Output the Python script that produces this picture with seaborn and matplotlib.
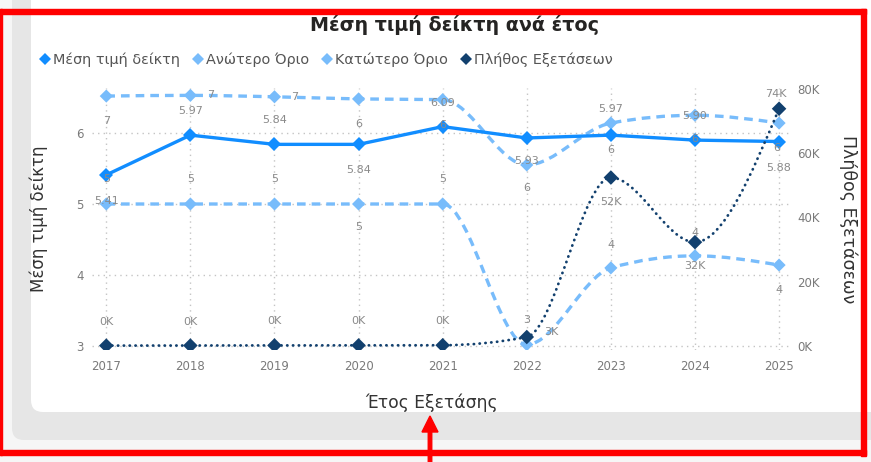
import numpy as np
import pandas as pd
import seaborn as sns
import matplotlib.pyplot as plt
from matplotlib.path import Path
from matplotlib.patches import PathPatch, Rectangle, FancyBboxPatch, FancyArrow
from matplotlib.lines import Line2D

# data
years = [2017, 2018, 2019, 2020, 2021, 2022, 2023, 2024, 2025]
mean_val = [5.41, 5.97, 5.84, 5.84, 6.09, 5.93, 5.97, 5.90, 5.88]
upper_lim = [6.52, 6.53, 6.51, 6.48, 6.47, 5.55, 6.14, 6.25, 6.14]
lower_lim = [5.0, 5.0, 5.0, 5.0, 5.0, 3.02, 4.10, 4.27, 4.14]
exam_count = [120, 150, 180, 200, 240, 2800, 52400, 32300, 73800]
series_names = ["Μέση τιμή δείκτη", "Ανώτερο Όριο", "Κατώτερο Όριο", "Πλήθος Εξετάσεων"]
left_ticks = [3, 4, 5, 6]
right_ticks = [0, 20000, 40000, 60000, 80000]

# label offsets in px (dx, dy), just placement
mean_off = [(0, -26), (0, 24), (0, 24), (0, -26), (0, 24), (0, -23), (0, 26), (0, 24), (0, -26)]
upper_off = [(0, -25), (20, 0), (20, 0), (0, -25), (0, -25), (0, -23), (0, -27), (0, -24), (-2, -25)]
lower_off = [(0, 25), (0, 25), (0, 25), (0, -23), (0, 25), (0, 25), (0, 23), (0, 23), (0, -25)]
count_off = [(0, 24), (0, 24), (0, 24), (0, 24), (0, 24), (25, 5), (0, -24), (0, -24), (-3, 15)]

c_mean = "#118DFF"
c_lim = "#78BCFB"
c_cnt = "#12406E"
c_lab = "#8a8a8a"

sns.set_style("white")
plt.rcParams["font.family"] = ["DejaVu Sans"]

W, H = 871, 462
fig = plt.figure(figsize=(W / 100, H / 100), dpi=100)
fig.patch.set_facecolor("#f6f6f6")

# background (pixel coords)
bg = fig.add_axes([0, 0, 1, 1], zorder=0)
bg.set_xlim(0, W)
bg.set_ylim(H, 0)
bg.axis("off")
bg.add_patch(FancyBboxPatch((12, -20), 900, 460, boxstyle="round,pad=0,rounding_size=12",
                            fc="#e6e6e6", ec="none"))
bg.add_patch(FancyBboxPatch((31, -20), 900, 432, boxstyle="round,pad=0,rounding_size=12",
                            fc="white", ec="none"))

ax = fig.add_axes([92 / W, 1 - 350 / H, 698 / W, 262 / H], zorder=1)
ax.set_facecolor("none")
ax2 = ax.twinx()


def smooth_patch(xs, ys, **kw):
    x = np.asarray(xs, float)
    y = np.asarray(ys, float)
    h = np.diff(x)
    s = np.diff(y) / h
    n = len(x)
    t = np.zeros(n)
    for i in range(1, n - 1):
        p = (s[i - 1] * h[i] + s[i] * h[i - 1]) / (h[i - 1] + h[i])
        t[i] = (np.sign(s[i - 1]) + np.sign(s[i])) * min(abs(s[i - 1]), abs(s[i]), 0.5 * abs(p))
    t[0] = (3 * s[0] - t[1]) / 2
    t[-1] = (3 * s[-1] - t[-2]) / 2
    verts = [(x[0], y[0])]
    codes = [Path.MOVETO]
    for i in range(n - 1):
        verts += [(x[i] + h[i] / 3, y[i] + t[i] * h[i] / 3),
                  (x[i + 1] - h[i] / 3, y[i + 1] - t[i + 1] * h[i] / 3),
                  (x[i + 1], y[i + 1])]
        codes += [Path.CURVE4] * 3
    return PathPatch(Path(verts, codes), fill=False, **kw)


# limits
ax.add_patch(smooth_patch(years, upper_lim, edgecolor=c_lim, lw=2.4, linestyle=(0, (2.6, 1.8)), zorder=2))
ax.add_patch(smooth_patch(years, lower_lim, edgecolor=c_lim, lw=2.4, linestyle=(0, (2.6, 1.8)), zorder=2))
sns.scatterplot(x=years, y=upper_lim, ax=ax, marker="D", s=45, color=c_lim, edgecolor="none", zorder=3)
sns.scatterplot(x=years, y=lower_lim, ax=ax, marker="D", s=45, color=c_lim, edgecolor="none", zorder=3)
# mean
sns.lineplot(x=years, y=mean_val, ax=ax, color=c_mean, lw=2.4, marker="D", markersize=7,
             markeredgewidth=0, zorder=4)
# count on right axis
ax2.add_patch(smooth_patch(years, exam_count, edgecolor=c_cnt, lw=2.0, linestyle=(0, (0.1, 2.0)),
                           capstyle="round", zorder=2))
sns.scatterplot(x=years, y=exam_count, ax=ax2, marker="D", s=55, color=c_cnt, edgecolor="none", zorder=3)

ax.set_xlim(2016.83, 2025.13)
ax.set_ylim(3 - 4 / 71, 3 + 258 / 71)
ax2.set_ylim(-4 / 64.3 * 20000, 258 / 64.3 * 20000)

ax.set_xticks(years)
ax.set_xticklabels([str(y) for y in years])
ax.set_yticks(left_ticks)
ax.set_yticklabels([str(v) for v in left_ticks])
ax2.set_yticks(right_ticks)
ax2.set_yticklabels([f"{v / 1000:.0f}K" for v in right_ticks])

ax.grid(True, axis="both", color="#c4c4c4", lw=1, linestyle=(0, (1, 3)))
ax2.grid(False)
for a in (ax, ax2):
    for sp in a.spines.values():
        sp.set_visible(False)
ax.tick_params(axis="both", length=0, labelcolor="#7a7a7a", labelsize=8.5)
ax.tick_params(axis="x", pad=7)
ax.tick_params(axis="y", pad=6)
ax2.tick_params(axis="y", length=0, labelcolor="#7a7a7a", labelsize=8.5, pad=5)

ax.set_xlabel("Έτος Εξετάσης", fontsize=12.3, color="#333333")
ax.xaxis.set_label_coords(0.487, -0.165)
ax.set_ylabel("Μέση τιμή δείκτη", fontsize=12, color="#333333")
ax.yaxis.set_label_coords(-0.063, 0.5)
ax2.set_ylabel("Πλήθος Εξετάσεων", fontsize=12.5, color="#333333", rotation=270, va="center")
ax2.yaxis.set_label_coords(1.083, 0.5)


def put_labels(a, vals, offs, fmt):
    for x, v, (dx, dy) in zip(years, vals, offs):
        a.annotate(fmt(v), (x, v), xytext=(dx * 0.72, dy * 0.72), textcoords="offset points",
                   ha="center", va="center", fontsize=8, color=c_lab, zorder=6)


put_labels(ax, upper_lim, upper_off, lambda v: f"{v:.0f}")
put_labels(ax, lower_lim, lower_off, lambda v: f"{v:.0f}")
put_labels(ax, mean_val, mean_off, lambda v: f"{v:.2f}")
put_labels(ax2, exam_count, count_off, lambda v: f"{v / 1000:.0f}K")

# title and legend
fig.text(454 / W, 1 - 25 / H, "Μέση τιμή δείκτη ανά έτος", ha="center", va="center",
         fontsize=13.8, fontweight="bold", color="#252423")
handles = [Line2D([], [], marker="D", linestyle="none", color=c, markersize=6.5, markeredgewidth=0)
           for c in (c_mean, c_lim, c_lim, c_cnt)]
fig.legend(handles, series_names, loc="center left", bbox_to_anchor=(38 / W, 1 - 60 / H), ncol=4,
           frameon=False, handletextpad=0.05, columnspacing=0.75, handlelength=1.0, fontsize=10.4,
           labelcolor="#555555", borderpad=0, borderaxespad=0)

# red annotation frame and arrow
ov = fig.add_axes([0, 0, 1, 1], zorder=10)
ov.set_xlim(0, W)
ov.set_ylim(H, 0)
ov.axis("off")
ov.patch.set_alpha(0)
red = "#ff0000"
ov.add_patch(Rectangle((0, 9), 866, 5, color=red))
ov.add_patch(Rectangle((861, 9), 5, 447, color=red))
ov.add_patch(Rectangle((0, 450), 866, 5, color=red))
ov.add_patch(Rectangle((0, 9), 2, 446, color=red))
ov.add_patch(FancyArrow(430, 466, 0, -50, width=3.5, head_width=16, head_length=16,
                        length_includes_head=True, color=red))

fig.savefig("out.png", dpi=100)
